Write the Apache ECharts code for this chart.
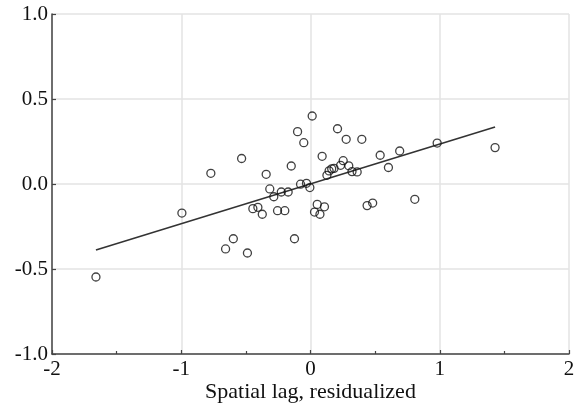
<!DOCTYPE html>
<html><head><meta charset="utf-8">
<script src="https://cdn.jsdelivr.net/npm/echarts@6/dist/echarts.min.js"></script>
<style>html,body{margin:0;padding:0;background:#fff}#c{width:574px;height:405px}</style>
</head><body><div id="c"></div>
<script>
const xVals = [-1.66,-0.995,-0.771,-0.533,-0.657,-0.597,-0.488,-0.343,-0.149,-0.100,-0.052,0.013,-0.315,-0.284,-0.226,-0.173,-0.077,-0.031,-0.005,-0.446,-0.407,-0.373,-0.255,-0.199,-0.124,0.052,0.108,0.031,0.073,0.090,0.127,0.144,0.164,0.182,0.233,0.253,0.296,0.321,0.361,0.209,0.276,0.397,0.539,0.603,0.690,0.980,1.428,0.807,0.438,0.481];
const yVals = [-0.547,-0.171,0.063,0.150,-0.382,-0.322,-0.406,0.057,0.106,0.308,0.243,0.400,-0.029,-0.075,-0.047,-0.047,-0.001,0.004,-0.021,-0.145,-0.137,-0.178,-0.157,-0.157,-0.322,-0.120,-0.134,-0.165,-0.178,0.163,0.051,0.077,0.089,0.092,0.110,0.137,0.107,0.073,0.071,0.325,0.263,0.263,0.169,0.097,0.194,0.241,0.214,-0.090,-0.127,-0.112];
const fitX = [-1.66, 1.428];
const fitY = [-0.388, 0.335];
const xTitle = 'Spatial lag, residualized';

const font = '"Liberation Serif","Times New Roman",serif';
const axisCol = '#444';
const chart = echarts.init(document.getElementById('c'), null, {renderer:'canvas'});
chart.setOption({
  animation:false,
  backgroundColor:'#fff',
  grid:{left:52,right:5,top:14,bottom:51,containLabel:false,outerBoundsMode:'none'},
  xAxis:{
    type:'value',min:-2,max:2,interval:1,
    name:xTitle,nameLocation:'middle',nameGap:27,nameMoveOverlap:false,
    nameTextStyle:{fontFamily:font,fontSize:22,color:'#111',verticalAlign:'top'},
    axisLine:{show:true,onZero:false,lineStyle:{color:axisCol,width:1.5}},
    axisTick:{show:true,inside:true,length:4,lineStyle:{color:axisCol,width:1.2}},
    minorTick:{show:true,splitNumber:2,length:3,lineStyle:{color:axisCol,width:1.2}},
    splitLine:{show:true,lineStyle:{color:'#e3e3e3',width:1.5}},
    axisLabel:{fontFamily:font,fontSize:21,color:'#111',margin:5}
  },
  yAxis:{
    type:'value',min:-1,max:1,interval:0.5,
    axisLine:{show:true,onZero:false,lineStyle:{color:axisCol,width:1.5}},
    axisTick:{show:true,inside:true,length:4,lineStyle:{color:axisCol,width:1.2}},
    splitLine:{show:true,lineStyle:{color:'#e3e3e3',width:1.5}},
    axisLabel:{fontFamily:font,fontSize:21,color:'#111',margin:4,formatter:v=>v.toFixed(1)}
  },
  series:[
    {type:'scatter',data:xVals.map((x,i)=>[x,yVals[i]]),symbol:'circle',symbolSize:8,
     itemStyle:{color:'rgba(255,255,255,0)',borderColor:'#111',borderWidth:1.3},z:3},
    {type:'line',data:fitX.map((x,i)=>[x,fitY[i]]),symbol:'none',
     lineStyle:{color:'#333',width:1.6},z:2}
  ]
});
</script></body></html>
